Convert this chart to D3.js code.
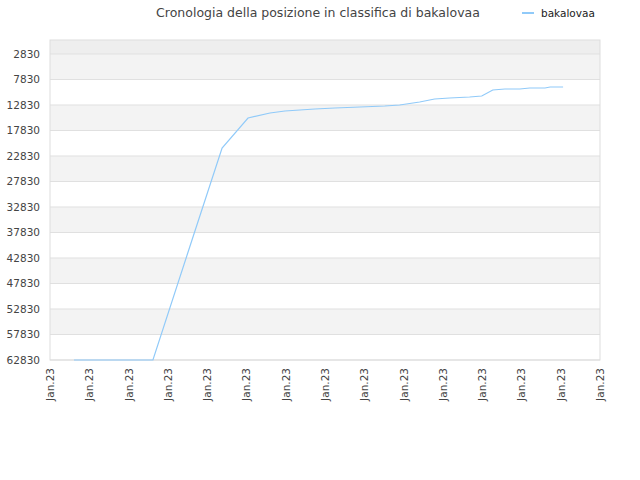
<!DOCTYPE html>
<html><head><meta charset="utf-8">
<script src="https://cdn.jsdelivr.net/npm/d3@7"></script>
<style>body{margin:0;background:#fff}text{font-family:"DejaVu Sans",sans-serif}</style>
</head><body><svg id="c" width="640" height="480"></svg>
<script>
const title = "Cronologia della posizione in classifica di bakalovaa";
const seriesName = "bakalovaa";
const xTickLabels = ["Jan.23","Jan.23","Jan.23","Jan.23","Jan.23","Jan.23","Jan.23","Jan.23","Jan.23","Jan.23","Jan.23","Jan.23","Jan.23","Jan.23","Jan.23"];
const yTicks = [2830,7830,12830,17830,22830,27830,32830,37830,42830,47830,52830,57830,62830];
const xPos = [0.61,1.0,1.5,2.0,2.62,3.5,4.38,5.04,5.6,5.98,6.36,6.74,7.25,7.89,8.52,8.9,9.41,9.79,10.17,10.68,10.99,11.27,11.58,11.96,12.21,12.6,12.73,13.06];
const ranks = [62830,62830,62830,62830,62830,42000,21261,15379,14399,14006,13810,13614,13418,13222,13026,12830,12242,11654,11458,11262,11066,9889,9693,9693,9497,9497,9301,9301];

const svg = d3.select("#c");
const L=50,R=600,T=40,B=360;
const x = d3.scaleLinear().domain([0,14]).range([L,R]);
const y = d3.scaleLinear().domain([85,62830]).range([T,B]);
const edges=[85,...yTicks];
for(let i=0;i<edges.length-1;i++){
  svg.append("rect").attr("x",L).attr("width",R-L).attr("y",y(edges[i])).attr("height",y(edges[i+1])-y(edges[i]))
   .attr("fill", i===0?"#eeeeee":(i%2===1?"#f3f3f3":"#ffffff"));
}
yTicks.forEach(v=>svg.append("line").attr("x1",L).attr("x2",R).attr("y1",y(v)).attr("y2",y(v)).attr("stroke","#e0e0e0"));
svg.append("rect").attr("x",L).attr("y",T).attr("width",R-L).attr("height",B-T).attr("fill","none").attr("stroke","#dddddd");
yTicks.forEach(v=>svg.append("text").attr("x",L-10).attr("y",y(v)+4).attr("text-anchor","end").attr("font-size",10.5).attr("fill","#444").text(v));
xTickLabels.forEach((t,i)=>{
  svg.append("text").attr("transform",`translate(${x(i)+4},${B+8}) rotate(-90)`).attr("text-anchor","end").attr("font-size",10.5).attr("fill","#444").text(t);
});
svg.append("path").datum(xPos.map((p,i)=>[p,ranks[i]])).attr("fill","none").attr("stroke","#90caf9").attr("stroke-width",1.2)
  .attr("d",d3.line().x(d=>x(d[0])).y(d=>y(d[1])));
svg.append("text").attr("x",318).attr("y",17).attr("text-anchor","middle").attr("font-size",12.5).attr("fill","#444").text(title);
svg.append("line").attr("x1",522).attr("x2",534).attr("y1",13).attr("y2",13).attr("stroke","#90caf9").attr("stroke-width",2);
svg.append("text").attr("x",541).attr("y",17).attr("font-size",10.5).attr("fill","#222").text(seriesName);
</script></body></html>
